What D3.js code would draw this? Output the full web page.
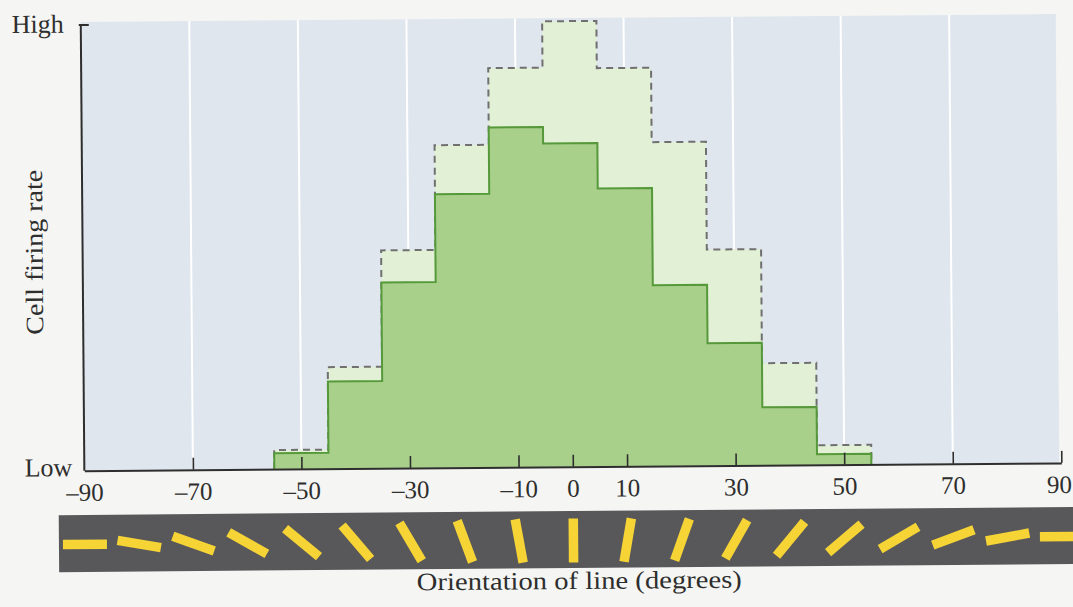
<!DOCTYPE html>
<html>
<head>
<meta charset="utf-8">
<script src="https://cdn.jsdelivr.net/npm/d3@7"></script>
<style>
  html, body { margin: 0; padding: 0; background: #f5f6f3; }
  svg { display: block; }
  text { font-family: "Liberation Serif", "DejaVu Serif", serif; fill: #2e2e2e; }
</style>
</head>
<body>
<svg id="chart" width="1073" height="607"></svg>
<script>
// ---- data ----
const binCenters   = [-50, -40, -30, -20, -10, 0, 10, 20, 30, 40, 50];
const firingPeak   = [4.3, 22.8, 48.9, 72.4, 89.6, 100, 89.4, 72.7, 48.5, 22.9, 4.4];
const firingMain   = [3.6, 19.6, 41.7, 61.4, 76.3, 72.6, 62.4, 40.6, 27.5, 13.0, 2.4];
const binWidth     = 10;
const xTicks       = [-90, -70, -50, -30, -10, 0, 10, 30, 50, 70, 90];
const gridValues   = [-70, -50, -30, -10, 10, 30, 50, 70];
const orientations = [-90, -80, -70, -60, -50, -40, -30, -20, -10, 0, 10, 20, 30, 40, 50, 60, 70, 80, 90];
const yLabels      = ["Low", "High"];

// ---- layout ----
const svg = d3.select("#chart");
const root = svg.append("g").attr("transform", "rotate(-0.46, 573, 300)");

const x = d3.scaleLinear().domain([-90, 90]).range([83, 1060]);
const y = d3.scaleLinear().domain([0, 100]).range([466.8, 21.1]);

// plot background
root.append("rect")
  .attr("x", x(-90)).attr("y", 18)
  .attr("width", 1058 - x(-90)).attr("height", y(0) - 18)
  .attr("fill", "#dfe6ee");

// white gridlines
root.append("g").selectAll("line").data(gridValues).join("line")
  .attr("x1", d => x(d)).attr("x2", d => x(d))
  .attr("y1", 18).attr("y2", y(0))
  .attr("stroke", "#ffffff").attr("stroke-width", 2);

// step outline builder
function stepPoints(vals) {
  const pts = [[binCenters[0] - binWidth / 2, 0]];
  vals.forEach((v, i) => {
    pts.push([binCenters[i] - binWidth / 2, v]);
    pts.push([binCenters[i] + binWidth / 2, v]);
  });
  pts.push([binCenters[binCenters.length - 1] + binWidth / 2, 0]);
  return pts;
}
const line = d3.line().x(d => x(d[0])).y(d => y(d[1]));

// light (peak) histogram with dashed outline
const peakPts = stepPoints(firingPeak);
root.append("path").attr("d", line(peakPts) + "Z")
  .attr("fill", "#e2f0d5").attr("stroke", "none");
root.append("path").attr("d", line(peakPts))
  .attr("fill", "none").attr("stroke", "#707070")
  .attr("stroke-width", 2).attr("stroke-dasharray", "7,5");

// main histogram
const mainPts = stepPoints(firingMain);
root.append("path").attr("d", line(mainPts) + "Z")
  .attr("fill", "#a9d08b").attr("stroke", "none");
root.append("path").attr("d", line(mainPts))
  .attr("fill", "none").attr("stroke", "#55993a").attr("stroke-width", 2);

// x axis (ticks pointing up, into plot)
const xAxis = d3.axisBottom(x).tickValues(xTicks).tickSize(0).tickPadding(0)
  .tickFormat(d => d < 0 ? "\u2013" + Math.abs(d) : String(d));
const gx = root.append("g").attr("transform", `translate(0,${y(0)})`).call(xAxis);
gx.select(".domain").attr("stroke", "#2e2e2e").attr("stroke-width", 2);
gx.selectAll(".tick line").attr("y2", -12).attr("stroke", "#2e2e2e").attr("stroke-width", 1.6);
gx.selectAll(".tick text")
  .attr("y", 30).attr("dy", 0)
  .style("font-family", '"Liberation Serif", serif')
  .style("font-size", "25px").attr("fill", "#2e2e2e");
gx.selectAll(".tick").filter(d => d === -90).select("line").remove();
gx.selectAll(".tick").filter(d => d === 90).select("text")
  .attr("text-anchor", "end").attr("x", 10);

// y axis
const gy = root.append("g");
gy.append("line").attr("x1", x(-90)).attr("x2", x(-90))
  .attr("y1", y(100) - 1).attr("y2", y(0))
  .attr("stroke", "#2e2e2e").attr("stroke-width", 2);
gy.append("line").attr("x1", x(-90) - 2).attr("x2", x(-90) + 8)
  .attr("y1", y(100)).attr("y2", y(100))
  .attr("stroke", "#2e2e2e").attr("stroke-width", 2);
gy.selectAll("text.ylab").data(yLabels).join("text").attr("class", "ylab")
  .attr("x", (d, i) => i === 0 ? 71 : 66)
  .attr("y", (d, i) => i === 0 ? 472 : 28.5)
  .attr("text-anchor", "end")
  .style("font-size", "26px")
  .text(d => d);

// y title
root.append("text")
  .attr("transform", "translate(43,248) rotate(-90)")
  .attr("text-anchor", "middle")
  .attr("textLength", 165).attr("lengthAdjust", "spacingAndGlyphs")
  .style("font-size", "25px")
  .text("Cell firing rate");

// orientation strip
const stripTop = 511, stripBottom = 568;
root.append("rect").attr("x", 57).attr("y", stripTop)
  .attr("width", 1100).attr("height", stripBottom - stripTop)
  .attr("fill", "#58585b");
const cy = (stripTop + stripBottom) / 2 + 1;
root.append("g").selectAll("line").data(orientations).join("line")
  .attr("transform", d => `translate(${x(d)},${cy}) rotate(${d})`)
  .attr("x1", 0).attr("x2", 0).attr("y1", -22).attr("y2", 22)
  .attr("stroke", "#f6d436").attr("stroke-width", 9.5);

// x title
root.append("text")
  .attr("x", 577).attr("y", 589)
  .attr("text-anchor", "middle")
  .attr("textLength", 325).attr("lengthAdjust", "spacingAndGlyphs")
  .style("font-size", "25px")
  .text("Orientation of line (degrees)");
</script>
</body>
</html>
